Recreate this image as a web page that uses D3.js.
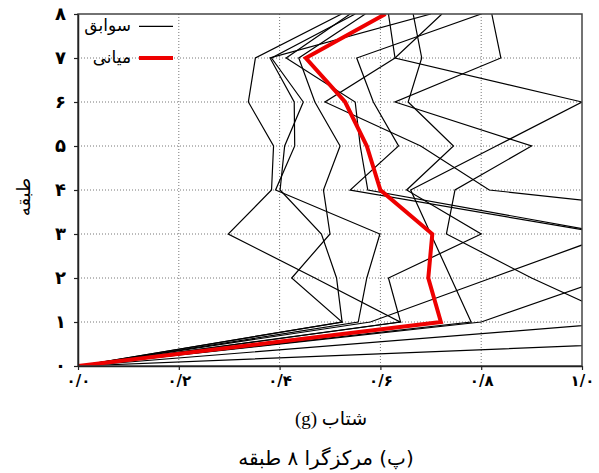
<!DOCTYPE html>
<html><head><meta charset="utf-8">
<script src="https://cdn.jsdelivr.net/npm/d3@7"></script>
<style>html,body{margin:0;padding:0;background:#fff;} svg{display:block;}</style>
</head><body><svg id="c" width="599" height="473"></svg>
<script>
// ---- data ----
const floors = [0, 1, 2, 3, 4, 5, 6, 7, 8];
const rec01 = [0, 0.639, 0.47, 0.298, 0.384, 0.388, 0.338, 0.352, 0.523];
const rec02 = [0, 0.556, 0.573, 0.599, 0.392, 0.43, 0.429, 0.381, 0.70];
const rec03 = [0, 0.524, 0.424, 0.50, 0.487, 0.52, 0.47, 0.438, 0.57];
const rec04 = [0, 0.524, 0.513, 0.483, 0.401, 0.41, 0.447, 0.384, 0.55];
const rec05 = [0, 1.09, 0.90, 0.731, 0.748, 0.90, 0.629, 0.839, 0.821];
const rec06 = [0, 0.64, 0.616, 0.80, 0.652, 0.745, 0.655, 0.682, 0.665];
const rec07 = [0, 0.80, 1.05, 1.05, 0.54, 0.636, 0.586, 0.553, 0.80];
const rec08 = [0, 0.78, 0.74, 0.70, 0.66, 0.83, 1.0, 0.629, 0.616];
const rec09 = [0, 2.17, 1.5, 1.62, 0.816, 0.68, 0.49, 0.629, 0.722];
const rec10 = [0, 0.58, 0.82, 1.06, 0.575, 0.56, 0.55, 0.413, 0.54];
const records = [rec01, rec02, rec03, rec04, rec05, rec06, rec07, rec08, rec09, rec10];
const medianVals = [0, 0.72, 0.695, 0.703, 0.60, 0.573, 0.53, 0.452, 0.61];

const xTickValues = [0, 0.2, 0.4, 0.6, 0.8, 1.0];
const xTickLabels = ["۰/۰", "۰/۲", "۰/۴", "۰/۶", "۰/۸", "۱/۰"];
const yTickValues = [0, 1, 2, 3, 4, 5, 6, 7, 8];
const yTickLabels = ["۰", "۱", "۲", "۳", "۴", "۵", "۶", "۷", "۸"];
const legendLabels = ["سوابق", "میانی"];
const xTitle = "شتاب (g)";
const yTitle = "طبقه";
const caption = "(پ) مرکزگرا ۸ طبقه";

// ---- drawing ----
const svg = d3.select("#c");
const L = 78, R = 582, T = 14, B = 366;
const x = d3.scaleLinear().domain([0, 1]).range([L, R]);
const y = d3.scaleLinear().domain([0, 8]).range([B, T]);
const faFont = "'DejaVu Sans', sans-serif";

svg.append("defs").append("clipPath").attr("id", "clip")
  .append("rect").attr("x", L).attr("y", T).attr("width", R - L).attr("height", B - T);

// grid
const grid = svg.append("g").attr("stroke", "#777").attr("stroke-width", 1)
  .attr("stroke-dasharray", "1,2");
grid.selectAll(".gx").data(xTickValues.slice(1, -1)).join("line")
  .attr("x1", d => x(d)).attr("x2", d => x(d)).attr("y1", T).attr("y2", B);
grid.selectAll(".gy").data(yTickValues.slice(1, -1)).join("line")
  .attr("x1", L).attr("x2", R).attr("y1", d => y(d)).attr("y2", d => y(d));

// lines
const line = d3.line().x(d => x(d[0])).y(d => y(d[1]));
const plot = svg.append("g").attr("clip-path", "url(#clip)");
records.forEach(r => {
  plot.append("path").datum(r.map((v, i) => [v, floors[i]]))
    .attr("d", line).attr("fill", "none").attr("stroke", "#000")
    .attr("stroke-width", 1.2).attr("stroke-linejoin", "miter");
});
plot.append("path").datum(medianVals.map((v, i) => [v, floors[i]]))
  .attr("d", line).attr("fill", "none").attr("stroke", "#ee0000")
  .attr("stroke-width", 4).attr("stroke-linejoin", "miter");

// frame
svg.append("rect").attr("x", L).attr("y", T).attr("width", R - L).attr("height", B - T)
  .attr("fill", "none").attr("stroke", "#444").attr("stroke-width", 1.5);

// axes
const xAxis = d3.axisBottom(x).tickValues(xTickValues)
  .tickFormat((d, i) => xTickLabels[i]).tickSizeInner(4).tickSizeOuter(0).tickPadding(5);
const gx = svg.append("g").attr("transform", `translate(0,${B})`).call(xAxis);
gx.select(".domain").attr("stroke", "#222").attr("stroke-width", 1.5);
gx.selectAll(".tick line").attr("stroke", "#222").attr("stroke-width", 1.2);
gx.selectAll("text").attr("font-family", faFont).attr("font-size", 15)
  .attr("font-weight", "bold").attr("fill", "#000");

const yAxis = d3.axisLeft(y).tickValues(yTickValues)
  .tickFormat((d, i) => yTickLabels[i]).tickSizeInner(4).tickSizeOuter(0).tickPadding(8);
const gy = svg.append("g").attr("transform", `translate(${L},0)`).call(yAxis);
gy.select(".domain").attr("stroke", "#222").attr("stroke-width", 1.5);
gy.selectAll(".tick line").attr("stroke", "#222").attr("stroke-width", 1.2);
gy.selectAll("text").attr("font-family", faFont).attr("font-size", 18)
  .attr("font-weight", "bold").attr("fill", "#000");

// legend
const leg = svg.append("g");
const legY = [y(7.72), y(7)];
leg.append("line").attr("x1", 139).attr("x2", 173).attr("y1", legY[0]).attr("y2", legY[0])
  .attr("stroke", "#000").attr("stroke-width", 1.2);
leg.append("line").attr("x1", 139).attr("x2", 173).attr("y1", legY[1]).attr("y2", legY[1])
  .attr("stroke", "#ee0000").attr("stroke-width", 4);
legendLabels.forEach((t, i) => {
  leg.append("text").attr("x", 131).attr("y", legY[i] + 5).attr("text-anchor", "end")
    .attr("font-family", faFont).attr("font-size", 17).text(t);
});

// titles
svg.append("text").attr("x", 331).attr("y", 425).attr("text-anchor", "middle")
  .attr("direction", "rtl")
  .attr("font-family", "'Liberation Serif', 'DejaVu Sans', serif").attr("font-size", 19).text(xTitle);
svg.append("text").attr("transform", `translate(30,197) rotate(-90)`)
  .attr("text-anchor", "middle").attr("font-family", faFont).attr("font-size", 18).text(yTitle);
svg.append("text").attr("x", 326).attr("y", 465).attr("text-anchor", "middle")
  .attr("direction", "rtl")
  .attr("font-family", faFont).attr("font-size", 20).text(caption);
</script></body></html>
